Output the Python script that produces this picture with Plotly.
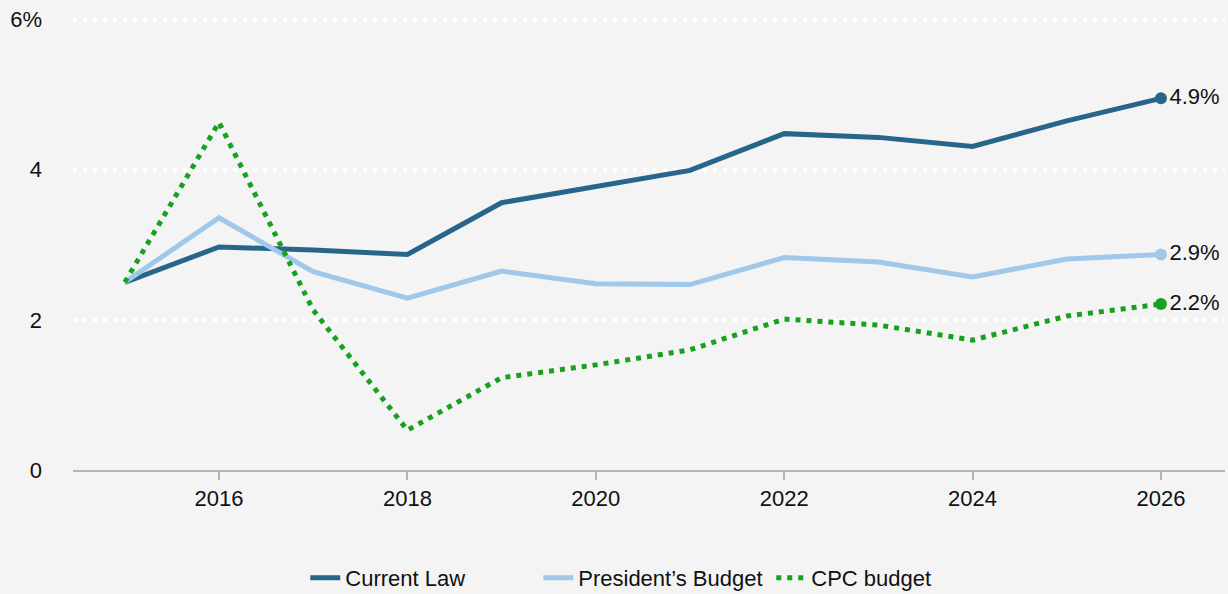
import plotly.graph_objects as go

years = list(range(2015, 2027))
current_law = [2.5, 2.97, 2.93, 2.87, 3.56, 3.77, 3.99, 4.48, 4.43, 4.31, 4.65, 4.95]
presidents_budget = [2.5, 3.36, 2.64, 2.29, 2.65, 2.48, 2.47, 2.83, 2.77, 2.57, 2.81, 2.87]
cpc_budget = [2.5, 4.63, 2.13, 0.53, 1.23, 1.40, 1.60, 2.01, 1.93, 1.73, 2.05, 2.21]
end_labels = ["4.9%", "2.9%", "2.2%"]
names = ["Current Law", "President\u2019s Budget", "CPC budget"]
colors = ["#28658a", "#a0c8ea", "#17a11f"]
dashes = ["solid", "solid", "5px,6px"]
series = [current_law, presidents_budget, cpc_budget]

FONT = "Liberation Sans, Arial, sans-serif"
FS = 22
fig = go.Figure()
for name, vals, col, dash in zip(names, series, colors, dashes):
    fig.add_trace(go.Scatter(x=years, y=vals, mode="lines", name=name,
                             line=dict(color=col, width=5, dash=dash)))
for vals, col, lab in zip(series, colors, end_labels):
    fig.add_trace(go.Scatter(x=[years[-1]], y=[vals[-1]], mode="markers+text",
                             marker=dict(color=col, size=12), text=[lab],
                             textposition="middle right",
                             textfont=dict(size=FS, color="#111", family=FONT),
                             showlegend=False, hoverinfo="skip", cliponaxis=False))

fig.update_layout(
    width=1228, height=594,
    paper_bgcolor="#f4f4f4", plot_bgcolor="#f4f4f4",
    margin=dict(l=73, r=3, t=18, b=124, autoexpand=False),
    font=dict(family=FONT, size=FS, color="#111"),
    legend=dict(orientation="h", x=0.505, xanchor="center", yref="container",
                y=0.027, yanchor="middle", font=dict(size=FS), tracegroupgap=0,
                entrywidth=188, entrywidthmode="pixels"),
    showlegend=True,
)
fig.update_xaxes(range=[2014.45, 2026.68], tickvals=[2016, 2018, 2020, 2022, 2024, 2026],
                 showgrid=False, showline=True, linecolor="#b4b4b4", linewidth=2,
                 ticks="outside", ticklen=8, tickcolor="#b4b4b4", tickwidth=2,
                 zeroline=False, automargin=False)
fig.update_yaxes(range=[0, 6.02], tickvals=[0, 2, 4, 6], ticktext=["0", "2", "4", "6%"],
                 showgrid=True, gridcolor="white", gridwidth=4, griddash="4px,6px",
                 zeroline=False, showline=False, ticks="", ticklabelstandoff=30,
                 automargin=False)
fig.write_html("out.html", config={"displayModeBar": False},
               post_script="document.body.style.margin='0px';")
